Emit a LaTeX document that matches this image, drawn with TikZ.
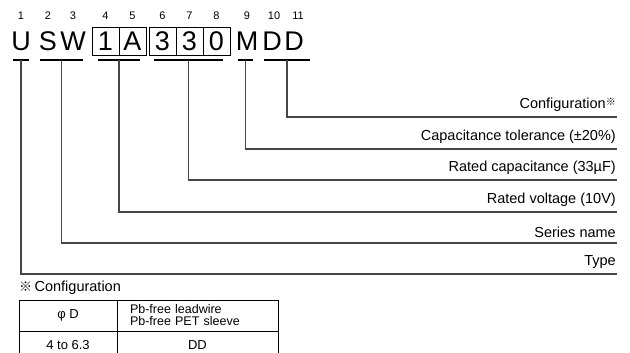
\documentclass[tikz,border=0pt]{standalone}
\usepackage{fontspec}
\setmainfont{Liberation Sans}
\newfontfamily\cjkfont{Noto Sans CJK JP}
\usetikzlibrary{positioning}
\definecolor{wireGray}{RGB}{70,70,70}

\begin{document}
\begin{tikzpicture}[
        x=1pt, y=-1pt,
        digit/.style={inner sep=0pt, font=\fontsize{11}{13}\selectfont},
        letter/.style={inner sep=0pt, minimum height=28pt, text height=19.3pt, text depth=0pt, font=\fontsize{27}{30}\selectfont},
        cell/.style={letter, draw, minimum width=27pt, line width=0.8pt},
        bar/.style={line width=2pt},
        wire/.style={line width=1.1pt, wireGray},
        tag/.style={inner sep=0pt, font=\fontsize{14.5}{17}\selectfont},
        tcell/.style={draw, line width=0.8pt, outer sep=0pt, inner sep=0pt, align=center, font=\fontsize{13}{15}\selectfont}
    ]
        \useasboundingbox (0,0) rectangle (630,353);

        % Part number
        \node[letter] (u) at (21,41) {U};
        \node[letter] (s) at (48,41) {S};
        \node[letter] (w) at (73,41) {W};
        \node[cell] (v1) at (105.5,41) {1};
        \node[cell] (va) at (132.5,41) {A};
        \node[cell] (c3a) at (162.5,41) {3};
        \node[cell] (c3b) at (189.5,41) {3};
        \node[cell] (c0) at (216.5,41) {0};
        \node[letter] (m) at (247,41) {M};
        \node[letter] (da) at (272,41) {D};
        \node[letter] (db) at (294,41) {D};

        % Position numbers
        \node[digit] (n1) at (21,16) {1};
        \node[digit] (n2) at (48,16) {2};
        \node[digit] (n3) at (73,16) {3};
        \node[digit] (n4) at (105.5,16) {4};
        \node[digit] (n5) at (132.5,16) {5};
        \node[digit] (n6) at (162.5,16) {6};
        \node[digit] (n7) at (189.5,16) {7};
        \node[digit] (n8) at (216.5,16) {8};
        \node[digit] (n9) at (247,16) {9};
        \node[digit] (n10) at (274,16) {10};
        \node[digit] (n11) at (298,16) {11};

        % Underlines
        \draw[bar] (13,60) -- (29,60);
        \draw[bar] (40,60) -- (83,60);
        \draw[bar] (98,60) -- (140,60);
        \draw[bar] (154,60) -- (223,60);
        \draw[bar] (238,60) -- (253,60);
        \draw[bar] (264,60) -- (310,60);

        \coordinate (b-type) at (21,60);
        \coordinate (b-series) at (61.5,60);
        \coordinate (b-volt) at (119,60);
        \coordinate (b-cap) at (188.5,60);
        \coordinate (b-tol) at (245.5,60);
        \coordinate (b-conf) at (287,60);

        % Line ends
        \coordinate (e-conf) at (617,117);
        \coordinate (e-tol) at (617,149);
        \coordinate (e-cap) at (617,180);
        \coordinate (e-volt) at (617,212);
        \coordinate (e-series) at (617,243);
        \coordinate (e-type) at (617,274);

        % Labels
        \node[tag, above left=5pt and 1pt of e-conf] (l-conf) {Configuration\raisebox{3pt}{\cjkfont\fontsize{10}{10}\selectfont ※}};
        \node[tag, above left=5pt and 1pt of e-tol] (l-tol) {Capacitance tolerance (±20\%)};
        \node[tag, above left=5pt and 1pt of e-cap] (l-cap) {Rated capacitance (33µF)};
        \node[tag, above left=5pt and 1pt of e-volt] (l-volt) {Rated voltage (10V)};
        \node[tag, above left=5pt and 1pt of e-series] (l-series) {Series name};
        \node[tag, above left=5pt and 1pt of e-type] (l-type) {Type};

        \draw[wire] (b-conf) |- (e-conf);
        \draw[wire] (b-tol) |- (e-tol);
        \draw[wire] (b-cap) |- (e-cap);
        \draw[wire] (b-volt) |- (e-volt);
        \draw[wire] (b-series) |- (e-series);
        \draw[wire] (b-type) |- (e-type);

        % Configuration table
        \node[tag, anchor=west] (t-title) at (19,288) {{\cjkfont\fontsize{13}{13}\selectfont ※}\,Configuration};
        \node[tcell, minimum width=98pt, minimum height=31pt] (t-d) at (68,315.5) {φ D};
        \node[tcell, minimum width=161pt, minimum height=31pt, right=0pt of t-d, font=\fontsize{12.5}{12}\selectfont, align=left, text width=135pt, inner xsep=13pt] (t-lead) {Pb-free leadwire\\Pb-free PET sleeve};
        \node[tcell, minimum width=98pt, minimum height=28pt, below=0pt of t-d] (t-size) {4 to 6.3};
        \node[tcell, minimum width=161pt, minimum height=28pt, below=0pt of t-lead] (t-dd) {DD};
    \end{tikzpicture}
\end{document}
